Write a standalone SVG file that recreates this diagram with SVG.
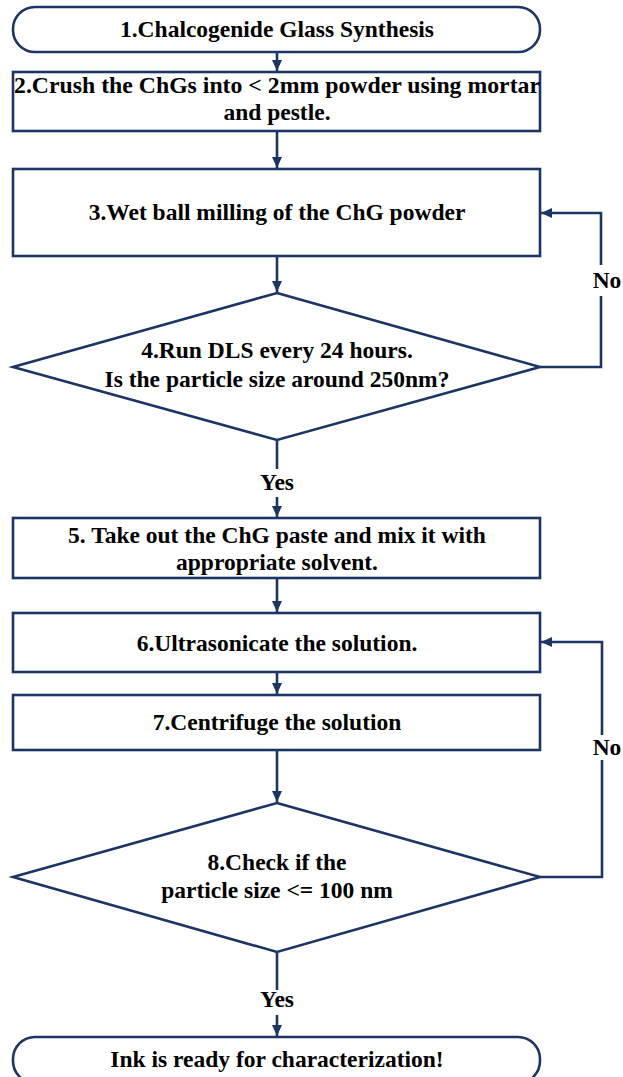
<svg xmlns="http://www.w3.org/2000/svg" width="623" height="1077" viewBox="0 0 623 1077">
<style>
.shape{fill:#ffffff;stroke:#1c3564;stroke-width:2.6}
.conn{fill:none;stroke:#1c3564;stroke-width:2.6}
text{font-family:'Liberation Serif','DejaVu Serif',serif;font-weight:bold;font-size:23.5px;fill:#000000;text-anchor:middle}
</style>
<defs>
<marker id="ah" markerUnits="userSpaceOnUse" markerWidth="12" markerHeight="12" viewBox="0 0 12 12" refX="11" refY="6" orient="auto">
<path d="M0,1 L11,6 L0,11 Z" fill="#1c3564"/>
</marker>
</defs>
<rect width="623" height="1077" fill="#ffffff"/>
<g id="connectors">
<line class="conn" x1="277" y1="52" x2="277" y2="71" marker-end="url(#ah)"/>
<line class="conn" x1="277" y1="131" x2="277" y2="168" marker-end="url(#ah)"/>
<line class="conn" x1="277" y1="256" x2="277" y2="292" marker-end="url(#ah)"/>
<polyline class="conn" points="540,367 601,367 601,296"/>
<polyline class="conn" points="601,265 601,213 541,213" marker-end="url(#ah)"/>
<text font-family="Liberation Serif, serif" x="607" y="288">No</text>
<line class="conn" x1="277" y1="440" x2="277" y2="469"/>
<text font-family="Liberation Serif, serif" x="277" y="490">Yes</text>
<line class="conn" x1="277" y1="497" x2="277" y2="517" marker-end="url(#ah)"/>
<line class="conn" x1="277" y1="578" x2="277" y2="612" marker-end="url(#ah)"/>
<line class="conn" x1="277" y1="672" x2="277" y2="694" marker-end="url(#ah)"/>
<line class="conn" x1="277" y1="750" x2="277" y2="802" marker-end="url(#ah)"/>
<polyline class="conn" points="540,877 602,877 602,760"/>
<polyline class="conn" points="602,735 602,642 541,642" marker-end="url(#ah)"/>
<text font-family="Liberation Serif, serif" x="607" y="755">No</text>
<line class="conn" x1="277" y1="952" x2="277" y2="990"/>
<text font-family="Liberation Serif, serif" x="277" y="1007">Yes</text>
<line class="conn" x1="277" y1="1015" x2="277" y2="1036" marker-end="url(#ah)"/>
</g>
<g id="n1">
<rect class="shape" x="13" y="7" width="527" height="45" rx="22" ry="22"/>
<text x="277" y="37">1.Chalcogenide Glass Synthesis</text>
</g>
<g id="n2">
<rect class="shape" x="13" y="72" width="527" height="59"/>
<text x="277" y="93" textLength="526" lengthAdjust="spacingAndGlyphs">2.Crush the ChGs into &lt; 2mm powder using mortar</text>
<text x="277" y="120">and pestle.</text>
</g>
<g id="n3">
<rect class="shape" x="13" y="169" width="527" height="87"/>
<text x="277" y="220">3.Wet ball milling of the ChG powder</text>
</g>
<g id="n4">
<polygon class="shape" points="277,293 540,367 277,440 13,367"/>
<text x="277" y="358">4.Run DLS every 24 hours.</text>
<text x="277" y="387">Is the particle size around 250nm?</text>
</g>
<g id="n5">
<rect class="shape" x="13" y="518" width="527" height="60"/>
<text x="277" y="543">5. Take out the ChG paste and mix it with</text>
<text x="277" y="570">appropriate solvent.</text>
</g>
<g id="n6">
<rect class="shape" x="13" y="613" width="527" height="59"/>
<text x="277" y="651">6.Ultrasonicate the solution.</text>
</g>
<g id="n7">
<rect class="shape" x="13" y="695" width="527" height="55"/>
<text x="277" y="730">7.Centrifuge the solution</text>
</g>
<g id="n8">
<polygon class="shape" points="277,803 540,877 277,952 13,877"/>
<text x="277" y="870">8.Check if the</text>
<text x="277" y="898">particle size &lt;= 100 nm</text>
</g>
<g id="n9">
<rect class="shape" x="13" y="1037" width="527" height="46" rx="22" ry="22"/>
<text x="277" y="1067">Ink is ready for characterization!</text>
</g>
</svg>
